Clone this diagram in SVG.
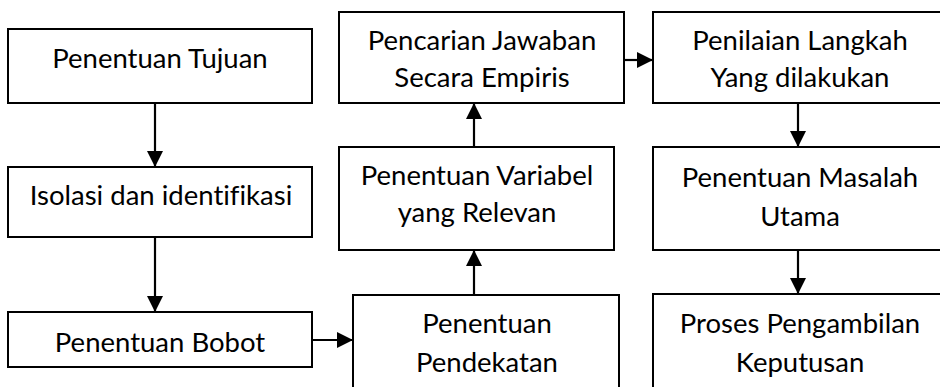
<svg xmlns="http://www.w3.org/2000/svg" width="940" height="387" viewBox="0 0 940 387">
  <style>
    .box { fill: #ffffff; stroke: #000000; stroke-width: 2; }
    .lbl { font-family: Lato, "Open Sans", "Liberation Sans", sans-serif; font-size: 27.5px; fill: #000000; text-anchor: middle; font-variant-ligatures: none; font-feature-settings: "liga" 0; }
    .edge { stroke: #000000; stroke-width: 2.2; fill: none; marker-end: url(#head); }
  </style>
  <defs>
    <marker id="head" markerUnits="userSpaceOnUse" markerWidth="16" markerHeight="16" viewBox="0 0 16 16" refX="16" refY="8" orient="auto">
      <path d="M0,0 L16,8 L0,16 Z" fill="#000000"/>
    </marker>
  </defs>
  <rect width="940" height="387" fill="#ffffff"/>

  <g id="connectors">
    <line class="edge" x1="155" y1="103" x2="155" y2="167"/>
    <line class="edge" x1="155" y1="237" x2="155" y2="312"/>
    <line class="edge" x1="312" y1="340" x2="353" y2="340"/>
    <line class="edge" x1="474" y1="295" x2="474" y2="250"/>
    <line class="edge" x1="474" y1="147" x2="474" y2="103"/>
    <line class="edge" x1="624" y1="60" x2="653" y2="60"/>
    <line class="edge" x1="798" y1="103" x2="798" y2="147"/>
    <line class="edge" x1="798" y1="250" x2="798" y2="294"/>
  </g>

  <g id="tujuan">
    <rect class="box" x="8" y="29" width="304" height="74"/>
    <text class="lbl" x="160" y="68">Penentuan Tujuan</text>
  </g>
  <g id="isolasi">
    <rect class="box" x="8" y="167" width="304" height="70"/>
    <text class="lbl" x="161" y="205">Isolasi dan identifikasi</text>
  </g>
  <g id="bobot">
    <rect class="box" x="8" y="312" width="304" height="55"/>
    <text class="lbl" x="160" y="352">Penentuan Bobot</text>
  </g>
  <g id="pendekatan">
    <rect class="box" x="353" y="295" width="266" height="110"/>
    <text class="lbl" x="487" y="333">Penentuan</text>
    <text class="lbl" x="487" y="372">Pendekatan</text>
  </g>
  <g id="variabel">
    <rect class="box" x="339" y="147" width="275" height="103"/>
    <text class="lbl" x="477" y="185">Penentuan Variabel</text>
    <text class="lbl" x="477" y="222">yang Relevan</text>
  </g>
  <g id="pencarian">
    <rect class="box" x="339" y="12" width="285" height="91"/>
    <text class="lbl" x="482" y="50">Pencarian Jawaban</text>
    <text class="lbl" x="482" y="87">Secara Empiris</text>
  </g>
  <g id="penilaian">
    <rect class="box" x="653" y="12" width="300" height="91"/>
    <text class="lbl" x="800" y="50">Penilaian Langkah</text>
    <text class="lbl" x="800" y="87">Yang dilakukan</text>
  </g>
  <g id="masalah">
    <rect class="box" x="653" y="147" width="300" height="103"/>
    <text class="lbl" x="800" y="187">Penentuan Masalah</text>
    <text class="lbl" x="800" y="226">Utama</text>
  </g>
  <g id="keputusan">
    <rect class="box" x="653" y="294" width="300" height="110"/>
    <text class="lbl" x="800" y="333">Proses Pengambilan</text>
    <text class="lbl" x="800" y="372">Keputusan</text>
  </g>
</svg>
